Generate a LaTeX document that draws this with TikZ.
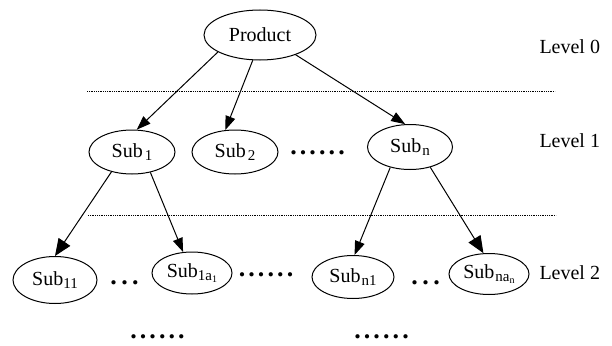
\documentclass[tikz,border=0pt]{standalone}
\usepackage{fontspec}
\setmainfont{Liberation Serif}
\usetikzlibrary{shapes.geometric,arrows.meta,positioning}

\newcommand{\idx}[1]{\raisebox{-3pt}{\fontsize{15}{15}\selectfont #1}}
\newcommand{\idxx}[1]{\raisebox{-2pt}{\fontsize{10}{10}\selectfont #1}}
\newcommand{\sixdots}{.\kern3.1pt.\kern3.1pt.\kern3.1pt.\kern3.1pt.\kern3.1pt.}
\newcommand{\threedots}{.\kern4.5pt.\kern4.5pt.}

\begin{document}
\begin{tikzpicture}[x=1pt,y=-1pt,line width=1pt,
    font=\fontsize{20}{24}\selectfont,
    sub/.style={draw,ellipse,inner sep=0pt,minimum width=86pt,minimum height=44pt},
    dotsrow/.style={inner sep=0pt,font=\fontsize{26}{28}\selectfont\bfseries},
    level/.style={anchor=west,inner sep=0pt},
    sep/.style={line width=0.8pt,dash pattern=on 0.8pt off 1pt},
    arr/.style={-{Triangle[length=14pt,width=10pt]}},
    bigarr/.style={-{Triangle[length=17pt,width=14pt]}}]
    \useasboundingbox (0,0) rectangle (612,345);

    \node[sub,minimum width=112pt,minimum height=50pt] (prod) at (260,35) {Product};
    \node[sub] (sub1) at (132,152) {Sub\kern2pt\idx{1}};
    \node[sub,right of=sub1,node distance=103pt] (sub2) {Sub\kern2pt\idx{2}};
    \node[sub,minimum width=85pt,minimum height=45pt] (subn) at (410,147) {Sub\kern1pt\idx{n}};

    \node[sub,minimum width=84pt,minimum height=47pt] (sub11) at (55,280) {Sub\idx{11}};
    \node[sub,minimum width=80pt,minimum height=42pt] (sub1a) at (192,273) {Sub\idx{1a\idxx{1}}};
    \node[sub,minimum width=82pt,minimum height=43pt] (subn1) at (353,277) {Sub\kern1pt\idx{n1}};
    \node[sub,minimum width=80pt,minimum height=41pt] (subna) at (489,274) {Sub\kern1pt\idx{na\idxx{n}}};

    % dots between the nodes
    \node[dotsrow] (dots1) at (317.5,153) {\sixdots};
    \node[dotsrow] (dots2) at (266,275) {\sixdots};
    \node[dotsrow] (dots3) at (124.5,283) {\threedots};
    \node[dotsrow] (dots4) at (425.5,283) {\threedots};
    \node[dotsrow] (dots5) at (157.5,337) {\sixdots};
    \node[dotsrow] (dots6) at (381.5,337) {\sixdots};

    \node[level] (lev0) at (539,47) {Level 0};
    \node[level] (lev1) at (539,141) {Level 1};
    \node[level] (lev2) at (539,273) {Level 2};

    \draw[sep] (87,91) -- (555,91);
    \draw[sep] (88,215) -- (556,215);

    \draw
    (prod.202) edge[arr] (sub1.78)
    (prod.254) edge[arr] (sub2.114)
    (prod.331) edge[arr] (subn.102)
    (sub1.224) edge[bigarr] (sub11.90)
    (sub1.312) edge[arr] (sub1a.113)
    (subn.226) edge[arr] (subn1.86)
    (subn.315) edge[bigarr] (subna.105);
\end{tikzpicture}
\end{document}
